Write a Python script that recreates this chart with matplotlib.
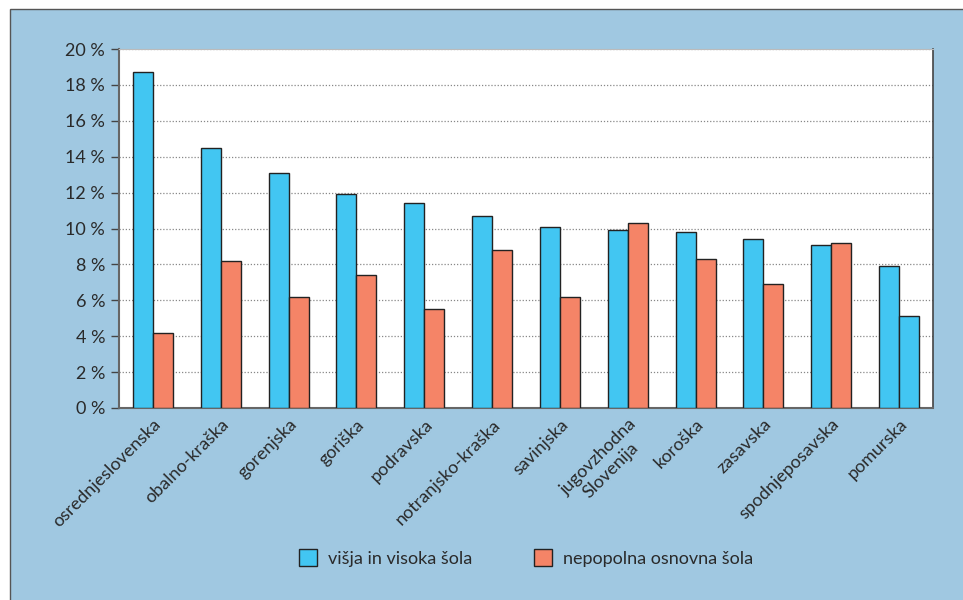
import matplotlib
matplotlib.use("Agg")
import matplotlib.pyplot as plt
from matplotlib.patches import Rectangle, Patch
import numpy as np

plt.rcParams['font.family'] = ['Lato', 'DejaVu Sans']

categories = ["osrednjeslovenska", "obalno-kraška", "gorenjska", "goriška", "podravska",
              "notranjsko-kraška", "savinjska", "jugovzhodna\nSlovenija", "koroška",
              "zasavska", "spodnjeposavska", "pomurska"]
visja = [18.7, 14.5, 13.1, 11.9, 11.4, 10.7, 10.1, 9.9, 9.8, 9.4, 9.1, 7.9]
nepopolna = [4.2, 8.2, 6.2, 7.4, 5.5, 8.8, 6.2, 10.3, 8.3, 6.9, 9.2, 5.1]
yticks = [0, 2, 4, 6, 8, 10, 12, 14, 16, 18, 20]
legend_labels = ["višja in visoka šola", "nepopolna osnovna šola"]

BLUE = "#42C6F2"
RED = "#F58467"
BG = "#A0C8E1"
TXT = "#2a2a2a"

fig = plt.figure(figsize=(9.63, 6.0), dpi=100)
fig.patch.set_facecolor("white")
# blue panel
fig.patches.append(Rectangle((10/963, -0.01), 1, 1.01 - 9/600, transform=fig.transFigure,
                             facecolor=BG, edgecolor="#555555", linewidth=1.0, zorder=-5))

ax = fig.add_axes([119/963, 1 - 408/600, (933-119)/963, (408-49)/600])
ax.set_zorder(2)
ax.set_facecolor("white")

x = np.arange(len(categories))
w = 0.295
colors2 = [RED] * (len(categories) - 1) + [BLUE]
ax.bar(x - w/2, visja, width=w, color=BLUE, edgecolor="#222222", linewidth=1.0, zorder=3)
ax.bar(x + w/2, nepopolna, width=w, color=colors2, edgecolor="#222222", linewidth=1.0, zorder=3)

ax.set_xlim(-0.5, len(categories) - 0.5)
ax.set_ylim(0, 20)
ax.set_yticks(yticks)
ax.set_yticklabels([f"{v} %" for v in yticks], fontsize=13, color=TXT)
ax.yaxis.grid(True, linestyle=(0, (1, 1.5)), color="#888888", linewidth=0.9, zorder=0)
ax.tick_params(axis="y", length=6, width=1, color="#444444", direction="out", pad=4)
ax.tick_params(axis="x", length=0, pad=6)
ax.set_xticks(x)
ax.set_xticklabels(categories, rotation=45, ha="right", rotation_mode="anchor",
                   fontsize=13, color=TXT, multialignment="center")
for s in ["left", "bottom"]:
    ax.spines[s].set_color("#666666")
    ax.spines[s].set_linewidth(1.5)
ax.spines["right"].set_color("#444444")
ax.spines["right"].set_linewidth(1.2)
ax.spines["top"].set_color("#bbbbbb")
ax.spines["top"].set_linewidth(0.8)

handles = [Patch(facecolor=BLUE, edgecolor="#222222", linewidth=1.0),
           Patch(facecolor=RED, edgecolor="#222222", linewidth=1.0)]
leg = fig.legend(handles, legend_labels, loc="center", bbox_to_anchor=(526/963, 1 - 558/600),
                 ncol=2, frameon=False, fontsize=13, handlelength=1.0, handleheight=1.1,
                 columnspacing=3.4, handletextpad=0.6, labelcolor=TXT)
leg.set_zorder(3)

fig.savefig("out.png", dpi=100)
